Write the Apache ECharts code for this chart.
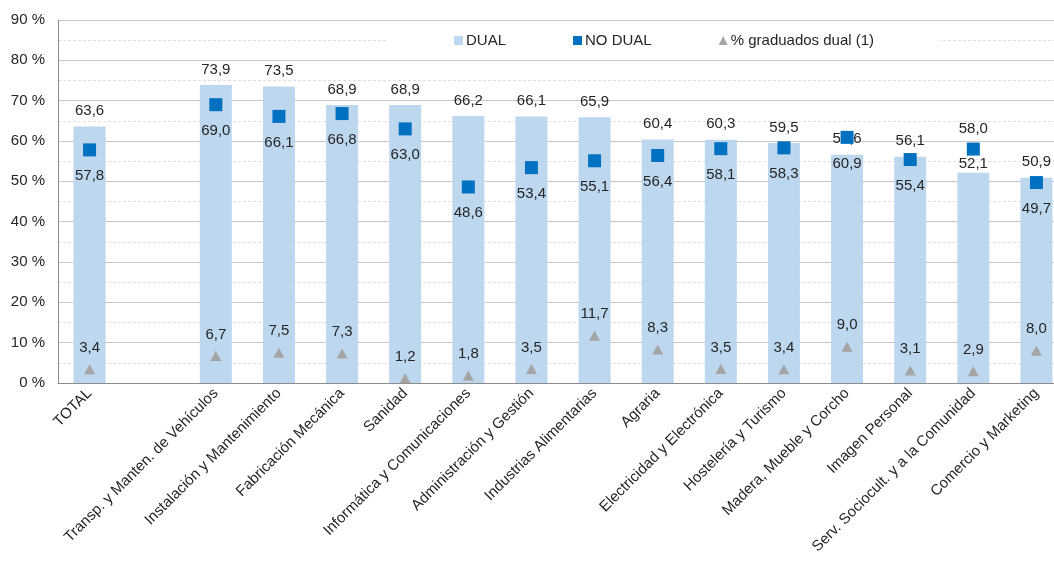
<!DOCTYPE html>
<html>
<head>
<meta charset="utf-8">
<script src="https://cdn.jsdelivr.net/npm/echarts@6/dist/echarts.min.js"></script>
<style>html,body{margin:0;padding:0;background:#fff}#c{width:1054px;height:563px}</style>
</head>
<body>
<div id="c"></div>
<script>
const categories = ['TOTAL', '', 'Transp. y Manten. de Vehículos', 'Instalación y Mantenimiento', 'Fabricación Mecánica', 'Sanidad', 'Informática y Comunicaciones', 'Administración y Gestión', 'Industrias Alimentarias', 'Agraria', 'Electricidad y Electrónica', 'Hostelería y Turismo', 'Madera, Mueble y Corcho', 'Imagen Personal', 'Serv. Sociocult. y a la Comunidad', 'Comercio y Marketing'];
const dual = [63.6, null, 73.9, 73.5, 68.9, 68.9, 66.2, 66.1, 65.9, 60.4, 60.3, 59.5, 56.6, 56.1, 52.1, 50.9];
const noDual = [57.8, null, 69.0, 66.1, 66.8, 63.0, 48.6, 53.4, 55.1, 56.4, 58.1, 58.3, 60.9, 55.4, 58.0, 49.7];
const graduados = [3.4, null, 6.7, 7.5, 7.3, 1.2, 1.8, 3.5, 11.7, 8.3, 3.5, 3.4, 9.0, 3.1, 2.9, 8.0];
const yTicks = [0, 10, 20, 30, 40, 50, 60, 70, 80, 90];

const FONT = '"Liberation Sans", Arial, sans-serif';
const TXT = '#262626';
const fmt = p => p.value == null ? '' : Number(p.value).toFixed(1).replace('.', ',');
const special = 'Serv. Sociocult. y a la Comunidad';

const dualData = dual.map((v, i) => categories[i] === special
  ? { value: v, label: { distance: 2 } } : v);
const noDualData = noDual.map((v, i) => categories[i] === special
  ? { value: v, label: { position: 'top', distance: 6 } } : v);

const chart = echarts.init(document.getElementById('c'), null, { renderer: 'canvas' });
chart.setOption({
  animation: false,
  textStyle: { fontFamily: FONT },
  grid: { left: 58, width: 1010, top: 20, bottom: 180, containLabel: false, outerBoundsMode: 'none' },
  legend: {
    left: 388, top: 25,
    padding: [8, 66, 8, 66],
    backgroundColor: '#ffffff',
    itemWidth: 9, itemHeight: 9, itemGap: 67,
    textStyle: { fontSize: 15, color: TXT, fontFamily: FONT, padding: [0, 0, 0, -2] },
    data: [
      { name: 'DUAL', icon: 'rect' },
      { name: 'NO DUAL', icon: 'rect' },
      { name: '% graduados dual (1)', icon: 'triangle' }
    ]
  },
  xAxis: {
    type: 'category',
    data: categories,
    axisLine: { show: true, lineStyle: { color: '#8c8c8c', width: 1 } },
    axisTick: { show: false },
    axisLabel: { rotate: 45, interval: 0, fontSize: 15, color: TXT, margin: 8, fontFamily: FONT }
  },
  yAxis: {
    type: 'value',
    min: yTicks[0], max: yTicks[yTicks.length - 1], interval: 10,
    axisLine: { show: true, lineStyle: { color: '#8c8c8c' } },
    axisTick: { show: false },
    axisLabel: { formatter: '{value} %', fontSize: 15, color: TXT, margin: 13, fontFamily: FONT },
    splitLine: { show: true, lineStyle: { color: '#c6c6c6', width: 1 } },
    minorTick: { show: false, splitNumber: 2 },
    minorSplitLine: { show: true, lineStyle: { color: '#dedede', type: [3, 2], width: 1 } }
  },
  series: [
    {
      name: 'DUAL', type: 'bar', data: dualData, barWidth: 32,
      itemStyle: { color: '#BDD7EE' },
      label: { show: true, position: 'top', distance: 8, formatter: fmt, fontSize: 15, color: TXT, fontFamily: FONT },
      z: 1
    },
    {
      name: 'NO DUAL', type: 'scatter', data: noDualData, symbol: 'rect', symbolSize: 13,
      itemStyle: { color: '#0070C0', opacity: 1 },
      label: { show: true, position: 'bottom', distance: 12, formatter: fmt, fontSize: 15, color: TXT, fontFamily: FONT },
      z: 3
    },
    {
      name: '% graduados dual (1)', type: 'scatter', data: graduados, symbol: 'triangle', symbolSize: [11, 10],
      itemStyle: { color: '#A5A5A5', opacity: 1 },
      label: { show: true, position: 'top', distance: 9, formatter: fmt, fontSize: 15, color: TXT, fontFamily: FONT },
      z: 3
    }
  ]
});
</script>
</body>
</html>
